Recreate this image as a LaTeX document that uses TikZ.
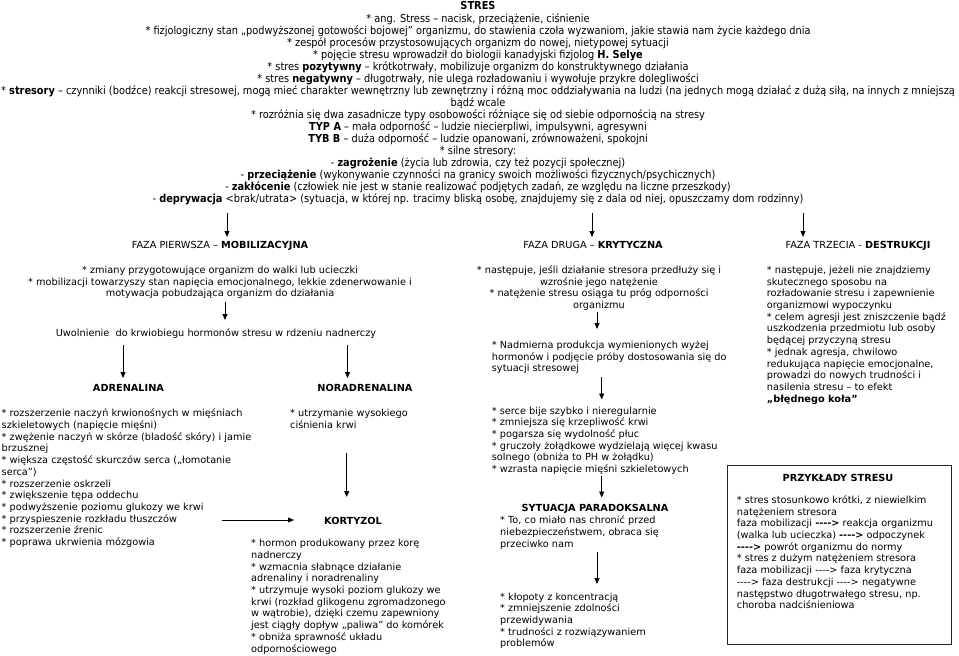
\documentclass[tikz,border=0pt]{standalone}
\usepackage{fontspec}
\newfontfamily\lowfont{DejaVu Sans}
\newfontfamily\topfont{DejaVu Sans}[FakeStretch=0.89]
\usetikzlibrary{arrows.meta}
\newcommand\harr{\mbox{-}\mbox{-}\mbox{-}\mbox{-}>}
\tikzset{
  low/.style={font=\lowfont\fontsize{9.75}{11.7}\selectfont, inner sep=0pt},
  topt/.style={font=\topfont\fontsize{11}{12}\selectfont, inner sep=0pt},
  blk/.style={low, align=left, anchor=north west},
  cblk/.style={low, align=center, anchor=north},
  head/.style={low, anchor=base},
  arr/.style={-{Triangle[length=6pt,width=5pt]}, line width=0.8pt},
  boxframe/.style={draw=black!85, line width=1.1pt},
}
\begin{document}
\begin{tikzpicture}[x=1pt,y=-1pt]
\useasboundingbox[fill=white] (0,0) rectangle (959,656);

% ---------- top block ----------
\node[topt, align=center, anchor=north] (intro) at (478,0.8) {\strut\textbf{STRES}\\
* ang. Stress – nacisk, przeciążenie, ciśnienie\\
* fizjologiczny stan „podwyższonej gotowości bojowej” organizmu, do stawienia czoła wyzwaniom, jakie stawia nam życie każdego dnia\\
* zespół procesów przystosowujących organizm do nowej, nietypowej sytuacji\\
* pojęcie stresu wprowadził do biologii kanadyjski fizjolog \textbf{H. Selye}\\
* stres \textbf{pozytywny} – krótkotrwały, mobilizuje organizm do konstruktywnego działania\\
* stres \textbf{negatywny} – długotrwały, nie ulega rozładowaniu i wywołuje przykre dolegliwości\\
* \textbf{stresory} – czynniki (bodźce) reakcji stresowej, mogą mieć charakter wewnętrzny lub zewnętrzny i różną moc oddziaływania na ludzi (na jednych mogą działać z dużą siłą, na innych z mniejszą\\
bądź wcale\\
* rozróżnia się dwa zasadnicze typy osobowości różniące się od siebie odpornością na stresy\\
\textbf{TYP A} – mała odporność – ludzie niecierpliwi, impulsywni, agresywni\\
\textbf{TYB B} – duża odporność – ludzie opanowani, zrównoważeni, spokojni\\
* silne stresory:\\
- \textbf{zagrożenie} (życia lub zdrowia, czy też pozycji społecznej)\\
- \textbf{przeciążenie} (wykonywanie czynności na granicy swoich możliwości fizycznych/psychicznych)\\
- \textbf{zakłócenie} (człowiek nie jest w stanie realizować podjętych zadań, ze względu na liczne przeszkody)\\
- \textbf{deprywacja} <brak/utrata> (sytuacja, w której np. tracimy bliską osobę, znajdujemy się z dala od niej, opuszczamy dom rodzinny)};

% ---------- phase headers ----------
\node[head] (f1) at (220,248.6) {FAZA PIERWSZA – \textbf{MOBILIZACYJNA}};
\node[head] (f2) at (593,248.6) {FAZA DRUGA – \textbf{KRYTYCZNA}};
\node[head] (f3) at (858,248.6) {FAZA TRZECIA - \textbf{DESTRUKCJI}};

\coordinate (a1s) at (227,213); \coordinate (a1e) at (227,237);
\coordinate (a2s) at (592,213); \coordinate (a2e) at (592,237);
\coordinate (a3s) at (803,213); \coordinate (a3e) at (803,237);
\draw[arr] (a1s) -- (a1e);
\draw[arr] (a2s) -- (a2e);
\draw[arr] (a3s) -- (a3e);

% ---------- phase 1 ----------
\node[cblk] (p1) at (220,265.1) {\strut* zmiany przygotowujące organizm do walki lub ucieczki\\
* mobilizacji towarzyszy stan napięcia emocjonalnego, lekkie zdenerwowanie i\\
motywacja pobudzająca organizm do działania};
\coordinate (b1s) at (225,301.5); \coordinate (b1e) at (225,320);
\draw[arr] (b1s) -- (b1e);
\node[head] (uw) at (216,336.6) {Uwolnienie\ \ do krwiobiegu hormonów stresu w rdzeniu nadnerczy};
\coordinate (c1s) at (123,345); \coordinate (c1e) at (123,378);
\coordinate (c2s) at (347.5,345); \coordinate (c2e) at (347.5,378);
\draw[arr] (c1s) -- (c1e);
\draw[arr] (c2s) -- (c2e);
\node[head] (adr) at (128.5,391.6) {\textbf{ADRENALINA}};
\node[head] (nor) at (365,391.6) {\textbf{NORADRENALINA}};

\node[blk] (adrl) at (1.5,408.5) {\strut* rozszerzenie naczyń krwionośnych w mięśniach\\
szkieletowych (napięcie mięśni)\\
* zwężenie naczyń w skórze (bladość skóry) i jamie\\
brzusznej\\
* większa częstość skurczów serca („łomotanie\\
serca”)\\
* rozszerzenie oskrzeli\\
* zwiększenie tępa oddechu\\
* podwyższenie poziomu glukozy we krwi\\
* przyspieszenie rozkładu tłuszczów\\
* rozszerzenie źrenic\\
* poprawa ukrwienia mózgowia};

\node[blk] (norl) at (290,408.5) {\strut* utrzymanie wysokiego\\
ciśnienia krwi};

\coordinate (d1s) at (346.7,453); \coordinate (d1e) at (346.7,497);
\draw[arr] (d1s) -- (d1e);
\coordinate (e1s) at (221.7,520); \coordinate (e1e) at (294,520);
\draw[arr] (e1s) -- (e1e);
\node[head] (kor) at (353,524.1) {\textbf{KORTYZOL}};
\node[blk] (korl) at (251,538.4) {\strut* hormon produkowany przez korę\\
nadnerczy\\
* wzmacnia słabnące działanie\\
adrenaliny i noradrenaliny\\
* utrzymuje wysoki poziom glukozy we\\
krwi (rozkład glikogenu zgromadzonego\\
w wątrobie), dzięki czemu zapewniony\\
jest ciągły dopływ „paliwa” do komórek\\
* obniża sprawność układu\\
odpornościowego};

% ---------- phase 2 ----------
\node[cblk] (p2) at (599,265.1) {\strut* następuje, jeśli działanie stresora przedłuży się i\\
wzrośnie jego natężenie\\
* natężenie stresu osiąga tu próg odporności\\
organizmu};
\coordinate (g1s) at (597,312); \coordinate (g1e) at (597,329);
\draw[arr] (g1s) -- (g1e);
\node[blk] (nad) at (491.7,340.1) {\strut* Nadmierna produkcja wymienionych wyżej\\
hormonów i podjęcie próby dostosowania się do\\
sytuacji stresowej};
\coordinate (g2s) at (601.7,377); \coordinate (g2e) at (601.7,399.5);
\draw[arr] (g2s) -- (g2e);
\node[blk] (ser) at (491.7,405.8) {\strut* serce bije szybko i nieregularnie\\
* zmniejsza się krzepliwość krwi\\
* pogarsza się wydolność płuc\\
* gruczoły żołądkowe wydzielają więcej kwasu\\
solnego (obniża to PH w żołądku)\\
* wzrasta napięcie mięśni szkieletowych};
\coordinate (g3s) at (601.7,475.5); \coordinate (g3e) at (601.7,497.5);
\draw[arr] (g3s) -- (g3e);
\node[head] (syt) at (595,511.9) {\textbf{SYTUACJA PARADOKSALNA}};
\node[blk] (toco) at (500,515.6) {\strut* To, co miało nas chronić przed\\
niebezpieczeństwem, obraca się\\
przeciwko nam};
\coordinate (g4s) at (597,552); \coordinate (g4e) at (597,584);
\draw[arr] (g4s) -- (g4e);
\node[blk] (klo) at (500,591.8) {\strut* kłopoty z koncentracją\\
* zmniejszenie zdolności\\
przewidywania\\
* trudności z rozwiązywaniem\\
problemów};

% ---------- phase 3 ----------
\node[blk] (p3) at (766.7,265.1) {\strut* następuje, jeżeli nie znajdziemy\\
skutecznego sposobu na\\
rozładowanie stresu i zapewnienie\\
organizmowi wypoczynku\\
* celem agresji jest zniszczenie bądź\\
uszkodzenia przedmiotu lub osoby\\
będącej przyczyną stresu\\
* jednak agresja, chwilowo\\
redukująca napięcie emocjonalne,\\
prowadzi do nowych trudności i\\
nasilenia stresu – to efekt\\
\textbf{„błędnego koła”}};

% ---------- examples box ----------
\node[boxframe, minimum width=224pt, minimum height=179pt, anchor=north west, inner sep=0pt] (box) at (727,465) {};
\node[head] (bxh) at (838,481.9) {\textbf{PRZYKŁADY STRESU}};
\node[blk] (bxt) at (736.7,495.1) {\strut* stres stosunkowo krótki, z niewielkim\\
natężeniem stresora\\
faza mobilizacji \textbf{\harr} reakcja organizmu\\
(walka lub ucieczka) \textbf{\harr} odpoczynek\\
\textbf{\harr} powrót organizmu do normy\\
* stres z dużym natężeniem stresora\\
faza mobilizacji \harr\ faza krytyczna\\
\harr\ faza destrukcji \harr\ negatywne\\
następstwo długotrwałego stresu, np.\\
choroba nadciśnieniowa};
\end{tikzpicture}
\end{document}
